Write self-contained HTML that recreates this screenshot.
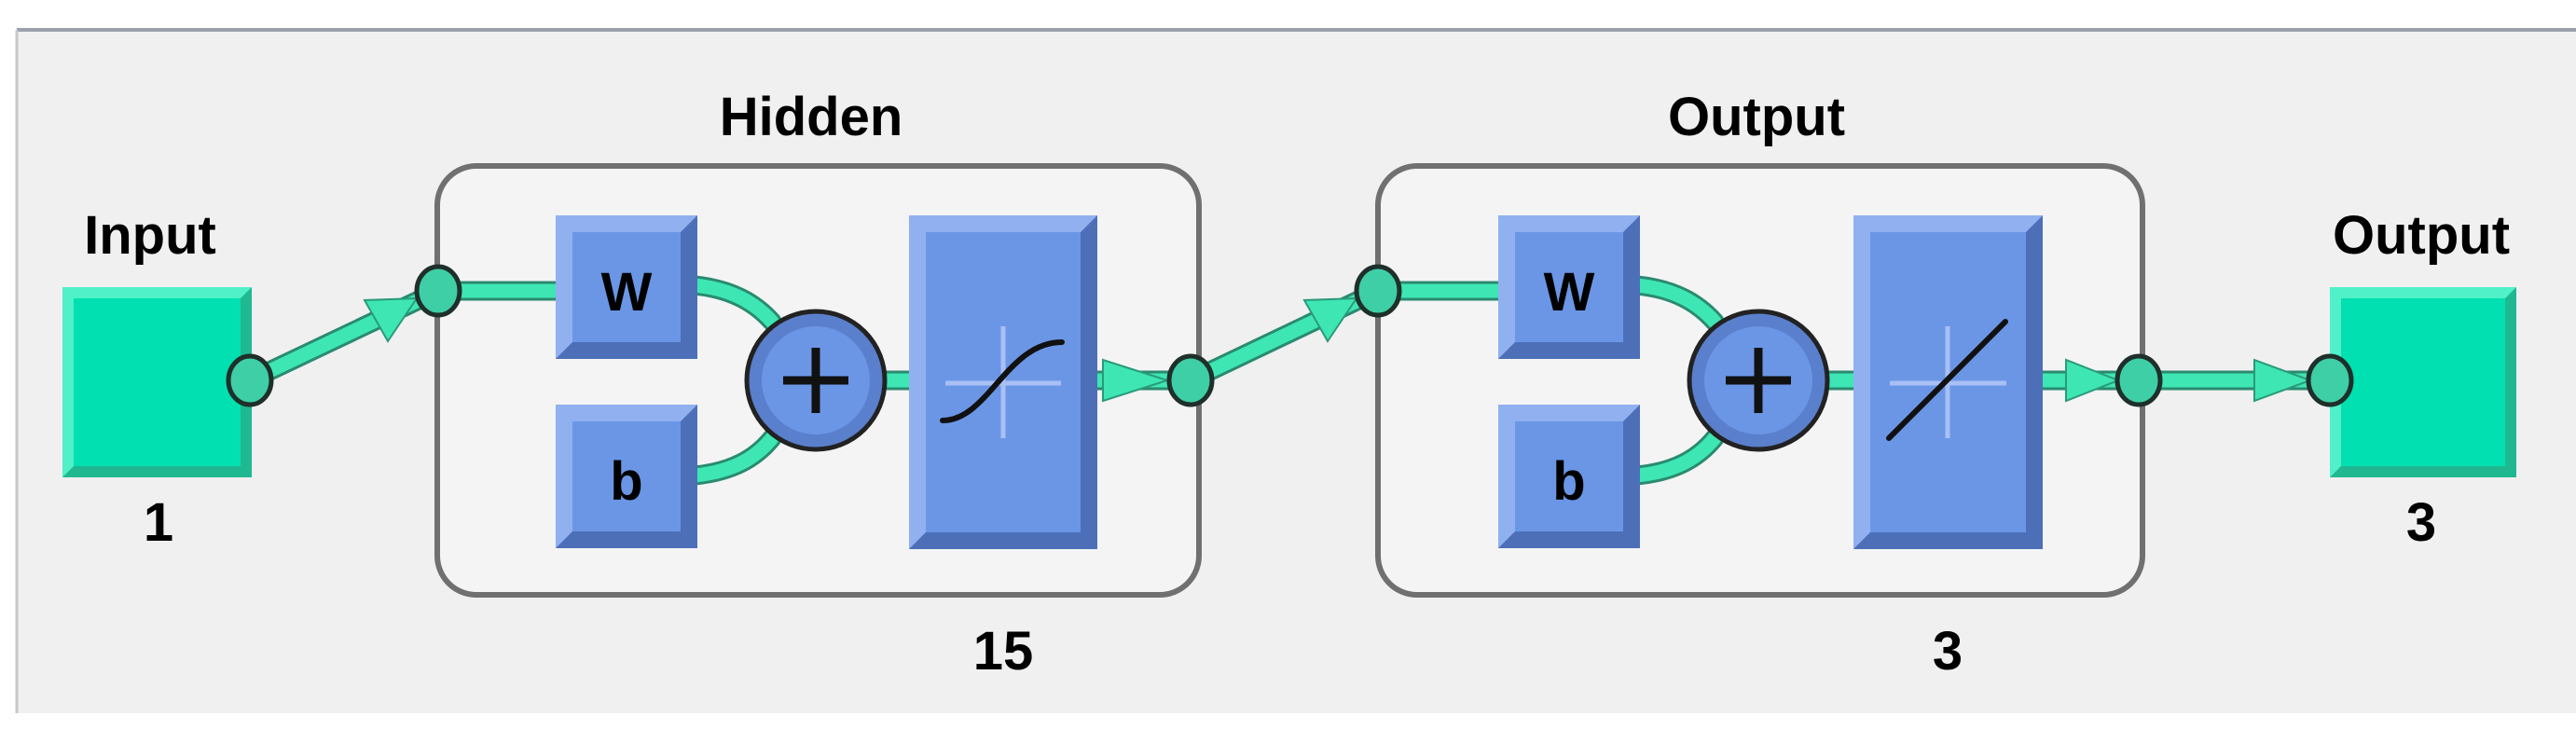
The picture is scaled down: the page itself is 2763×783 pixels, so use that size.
<!DOCTYPE html>
<html><head><meta charset="utf-8"><style>
html,body{margin:0;padding:0;background:#fff}
svg{display:block}
text{font-family:"Liberation Sans",sans-serif;font-weight:bold;fill:#000}
</style></head><body>
<svg width="2763" height="783" viewBox="0 0 2763 783" xmlns="http://www.w3.org/2000/svg">
<rect x="0" y="0" width="2763" height="783" fill="#fff"/>
<rect x="18" y="32" width="2745" height="733" fill="#f0f0f0"/>
<line x1="18" y1="32" x2="2763" y2="32" stroke="#9aa0ac" stroke-width="4"/>
<line x1="18" y1="32" x2="18" y2="765" stroke="#c8c8c8" stroke-width="3"/>

<rect x="469" y="178" width="817" height="460" rx="42" fill="#f4f4f4" stroke="#707070" stroke-width="6"/>
<rect x="1478" y="178" width="820" height="460" rx="42" fill="#f4f4f4" stroke="#707070" stroke-width="6"/>

<g fill="none" stroke-linecap="round">
<g stroke="#2a8a70" stroke-width="21">
<line x1="268" y1="408" x2="470" y2="312"/>
<line x1="470" y1="312" x2="600" y2="312"/>
<path d="M745 306 C785 310 810 325 828 345"/>
<path d="M745 510 C785 506 810 492 828 470"/>
<line x1="950" y1="408" x2="980" y2="408"/>
<line x1="1177" y1="408" x2="1277" y2="408"/>
<line x1="1277" y1="408" x2="1478" y2="312"/>
<line x1="1478" y1="312" x2="1610" y2="312"/>
<path d="M1756 306 C1796 310 1821 325 1839 345"/>
<path d="M1756 510 C1796 506 1821 492 1839 470"/>
<line x1="1960" y1="408" x2="1990" y2="408"/>
<line x1="2191" y1="408" x2="2499" y2="408"/>
</g>
<g stroke="#3ee6b4" stroke-width="15">
<line x1="268" y1="408" x2="470" y2="312"/>
<line x1="470" y1="312" x2="600" y2="312"/>
<path d="M745 306 C785 310 810 325 828 345"/>
<path d="M745 510 C785 506 810 492 828 470"/>
<line x1="950" y1="408" x2="980" y2="408"/>
<line x1="1177" y1="408" x2="1277" y2="408"/>
<line x1="1277" y1="408" x2="1478" y2="312"/>
<line x1="1478" y1="312" x2="1610" y2="312"/>
<path d="M1756 306 C1796 310 1821 325 1839 345"/>
<path d="M1756 510 C1796 506 1821 492 1839 470"/>
<line x1="1960" y1="408" x2="1990" y2="408"/>
<line x1="2191" y1="408" x2="2499" y2="408"/>
</g>
</g>
<g fill="#3ee6b4" stroke="#2a9a7a" stroke-width="2">
<polygon points="447,320 391,322 416,366"/>
<polygon points="1455,320 1399,322 1424,366"/>
<polygon points="1183,386 1183,430 1252,408"/>
<polygon points="2216,386 2216,430 2272,408"/>
<polygon points="2418,386 2418,430 2478,408"/>
</g>

<g>
<rect x="67" y="308" width="203" height="204" fill="#20b890"/>
<polygon points="67,308 270,308 258,320 79,320 79,500 67,512" fill="#50f0c8"/>
<rect x="79" y="320" width="179" height="180" fill="#00e0b0"/>
<rect x="2499" y="308" width="200" height="204" fill="#20b890"/>
<polygon points="2499,308 2699,308 2687,320 2511,320 2511,500 2499,512" fill="#50f0c8"/>
<rect x="2511" y="320" width="176" height="180" fill="#00e0b0"/>
</g>

<g>
<rect x="596" y="231" width="152" height="154" fill="#4c6fb8"/>
<polygon points="596,231 748,231 730,249 614,249 614,367 596,385" fill="#90b0f0"/>
<rect x="614" y="249" width="116" height="118" fill="#6b96e6"/>
<rect x="596" y="434" width="152" height="154" fill="#4c6fb8"/>
<polygon points="596,434 748,434 730,452 614,452 614,570 596,588" fill="#90b0f0"/>
<rect x="614" y="452" width="116" height="118" fill="#6b96e6"/>
<rect x="975" y="231" width="202" height="358" fill="#4c6fb8"/>
<polygon points="975,231 1177,231 1159,249 993,249 993,571 975,589" fill="#90b0f0"/>
<rect x="993" y="249" width="166" height="322" fill="#6b96e6"/>
<rect x="1607" y="231" width="152" height="154" fill="#4c6fb8"/>
<polygon points="1607,231 1759,231 1741,249 1625,249 1625,367 1607,385" fill="#90b0f0"/>
<rect x="1625" y="249" width="116" height="118" fill="#6b96e6"/>
<rect x="1607" y="434" width="152" height="154" fill="#4c6fb8"/>
<polygon points="1607,434 1759,434 1741,452 1625,452 1625,570 1607,588" fill="#90b0f0"/>
<rect x="1625" y="452" width="116" height="118" fill="#6b96e6"/>
<rect x="1988" y="231" width="203" height="358" fill="#4c6fb8"/>
<polygon points="1988,231 2191,231 2173,249 2006,249 2006,571 1988,589" fill="#90b0f0"/>
<rect x="2006" y="249" width="167" height="322" fill="#6b96e6"/>
</g>

<g stroke="#a8c0f4" stroke-width="5">
<line x1="1014" y1="411" x2="1138" y2="411"/><line x1="1076" y1="350" x2="1076" y2="470"/>
<line x1="2027" y1="411" x2="2152" y2="411"/><line x1="2089" y1="350" x2="2089" y2="470"/>
</g>
<path d="M1011 451 C1060 451 1080 367 1139 367" fill="none" stroke="#111" stroke-width="6" stroke-linecap="round"/>
<line x1="2026" y1="470" x2="2151" y2="345" stroke="#111" stroke-width="6" stroke-linecap="round"/>

<g>
<circle cx="875" cy="408" r="74" fill="#5a7fcc" stroke="#222" stroke-width="5"/>
<circle cx="875" cy="408" r="58" fill="#6b96e6"/>
<line x1="840" y1="408" x2="910" y2="408" stroke="#111" stroke-width="9"/>
<line x1="875" y1="373" x2="875" y2="443" stroke="#111" stroke-width="9"/>
<circle cx="1886" cy="408" r="74" fill="#5a7fcc" stroke="#222" stroke-width="5"/>
<circle cx="1886" cy="408" r="58" fill="#6b96e6"/>
<line x1="1851" y1="408" x2="1921" y2="408" stroke="#111" stroke-width="9"/>
<line x1="1886" y1="373" x2="1886" y2="443" stroke="#111" stroke-width="9"/>
</g>

<g fill="#3ecfa6" stroke="#1f2f2a" stroke-width="5">
<ellipse cx="268" cy="408" rx="23" ry="26"/>
<ellipse cx="470" cy="312" rx="23" ry="26"/>
<ellipse cx="1277" cy="408" rx="23" ry="26"/>
<ellipse cx="1478" cy="312" rx="23" ry="26"/>
<ellipse cx="2294" cy="408" rx="23" ry="26"/>
<ellipse cx="2499" cy="408" rx="23" ry="26"/>
</g>

<g font-size="58" text-anchor="middle">
<text x="161" y="272">Input</text>
<text x="870" y="145">Hidden</text>
<text x="1884" y="145">Output</text>
<text x="2597" y="272">Output</text>
<text x="170" y="580">1</text>
<text x="2597" y="580">3</text>
<text x="1076" y="718">15</text>
<text x="2089" y="718">3</text>
<text x="672" y="333">W</text>
<text x="672" y="536">b</text>
<text x="1683" y="333">W</text>
<text x="1683" y="536">b</text>
</g>
</svg>
</body></html>
